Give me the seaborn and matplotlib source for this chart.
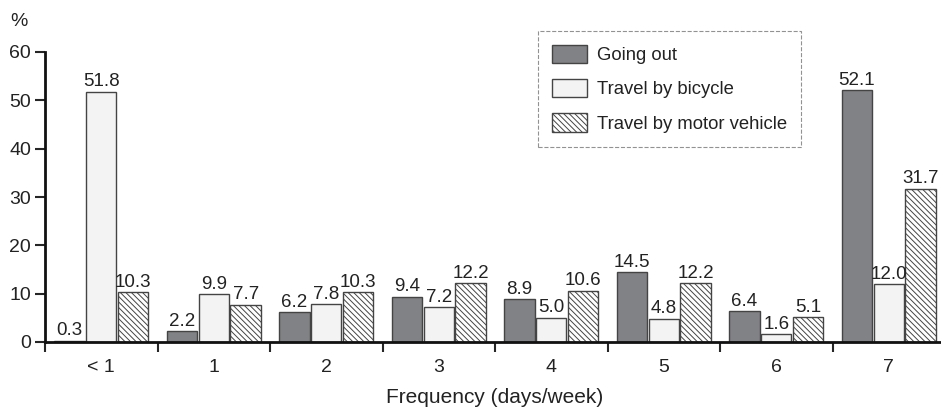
import pandas as pd
import matplotlib.pyplot as plt
import seaborn as sns

# Chart data
categories = ['< 1', '1', '2', '3', '4', '5', '6', '7']
going_out = [0.3, 2.2, 6.2, 9.4, 8.9, 14.5, 6.4, 52.1]
bicycle = [51.8, 9.9, 7.8, 7.2, 5.0, 4.8, 1.6, 12.0]
motor = [10.3, 7.7, 10.3, 12.2, 10.6, 12.2, 5.1, 31.7]
series = ['Going out', 'Travel by bicycle', 'Travel by motor vehicle']

df = pd.DataFrame({
    'Frequency': categories * 3,
    'Percent': going_out + bicycle + motor,
    'Mode': [s for s in series for _ in categories],
})

sns.set_style('white')
plt.rcParams['font.family'] = ['Liberation Sans', 'DejaVu Sans']
plt.rcParams['hatch.color'] = '#333333'
plt.rcParams['hatch.linewidth'] = 0.7

FS = 14
HATCH = '\\\\\\\\\\\\'
TXT = '#222222'

fig = plt.figure(figsize=(9.41, 4.07), dpi=100)
ax = fig.add_axes([45 / 941, 65 / 407, 900 / 941, 290 / 407])

palette = {'Going out': '#818285', 'Travel by bicycle': '#f3f3f3',
           'Travel by motor vehicle': '#ffffff'}
sns.barplot(data=df, x='Frequency', y='Percent', hue='Mode', order=categories,
            hue_order=series, palette=palette, width=0.85, gap=0.05,
            edgecolor='#444444', linewidth=1, saturation=1, ax=ax)

# hatch the motor vehicle bars
for patch in ax.containers[2]:
    patch.set_hatch(HATCH)

for cont in ax.containers:
    ax.bar_label(cont, fmt='%.1f', padding=1, fontsize=13.5, color=TXT)

ax.set_xlim(-0.5, 7.5)
ax.set_ylim(0, 60)
ax.set_yticks(range(0, 61, 10))
ax.set_xticks([i + 0.5 for i in range(-1, 8)], minor=True)
ax.tick_params(axis='x', which='major', length=0, labelsize=FS, pad=12, labelcolor=TXT)
ax.tick_params(axis='x', which='minor', length=7, width=1.5, direction='out', bottom=True)
ax.tick_params(axis='y', length=7, width=1.5, direction='out', left=True, labelsize=FS,
               pad=3, labelcolor=TXT)

for side in ['top', 'right']:
    ax.spines[side].set_visible(False)
for side in ['left', 'bottom']:
    ax.spines[side].set_linewidth(2)
    ax.spines[side].set_color('#111111')

ax.set_xlabel('Frequency (days/week)', fontsize=15, labelpad=9, color=TXT)
ax.set_ylabel('')
fig.text(10 / 941, 1 - 22 / 407, '%', fontsize=FS, va='center', color=TXT)

leg = ax.legend(loc='upper left', bbox_to_anchor=(538 / 941, 1 - 31 / 407),
                bbox_transform=fig.transFigure, fontsize=13.3, frameon=True,
                fancybox=False, handlelength=1.9, handleheight=1.15,
                handletextpad=0.55, borderpad=0.75, labelspacing=0.8,
                borderaxespad=0, title=None)
leg.legend_handles[2].set_hatch(HATCH)
for t in leg.get_texts():
    t.set_color(TXT)
frame = leg.get_frame()
frame.set_linestyle('--')
frame.set_edgecolor('#777777')
frame.set_linewidth(0.8)

fig.savefig('out.png', dpi=100)
